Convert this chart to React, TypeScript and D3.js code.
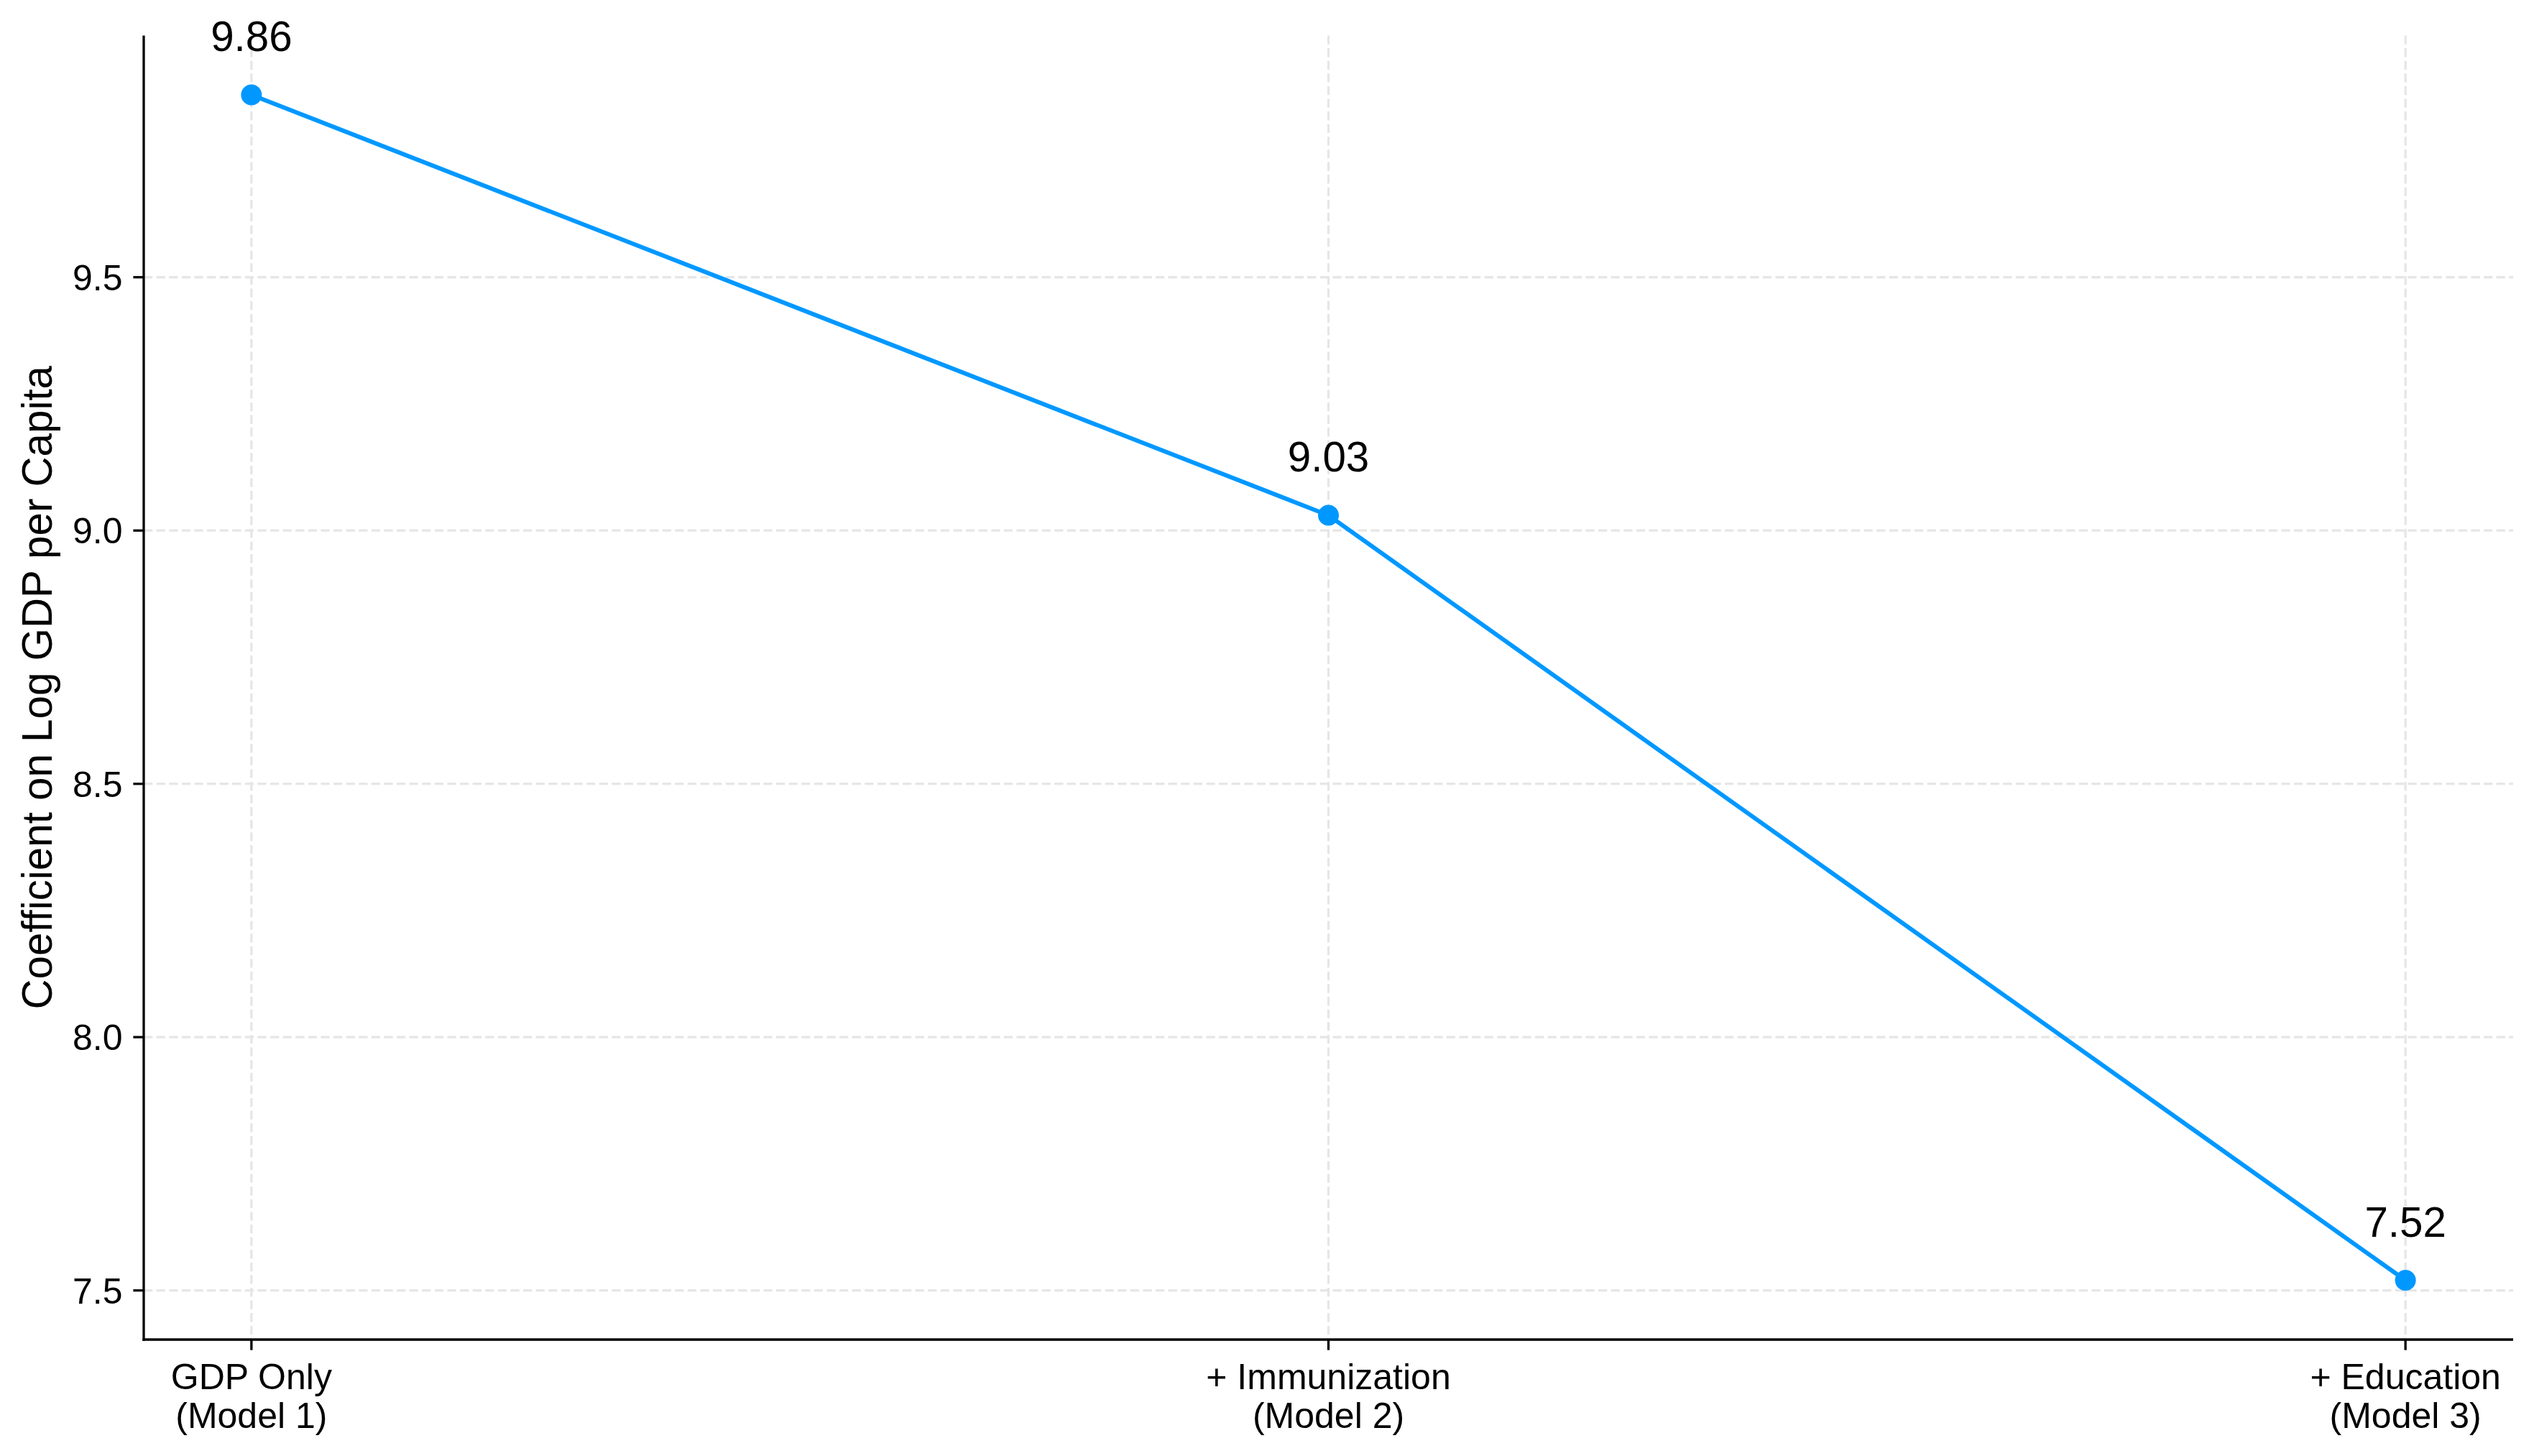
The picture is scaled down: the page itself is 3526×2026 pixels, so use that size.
import React from "react";
import * as d3 from "d3";

const categories: string[][] = [
  ["GDP Only", "(Model 1)"],
  ["+ Immunization", "(Model 2)"],
  ["+ Education", "(Model 3)"],
];
const coefficients: number[] = [9.86, 9.03, 7.52];
const yTicks: number[] = [7.5, 8.0, 8.5, 9.0, 9.5];
const yLabel = "Coefficient on Log GDP per Capita";

const W = 3526;
const H = 2026;
const left = 200;
const right = 3497;
const top = 49.5;
const bottom = 1864;
const FONT = "'Liberation Sans', Arial, Helvetica, sans-serif";
const BLUE = "#0098ff";

export default function App() {
  const yMin = d3.min(coefficients)!;
  const yMax = d3.max(coefficients)!;
  const pad = (yMax - yMin) * 0.05;
  const x = d3.scaleLinear().domain([-0.1, categories.length - 1 + 0.1]).range([left, right]);
  const y = d3.scaleLinear().domain([yMin - pad, yMax + pad]).range([bottom, top]);
  const line = d3
    .line<number>()
    .x((_, i) => x(i))
    .y((d) => y(d));

  return (
    <svg
      width={W}
      height={H}
      style={{ position: "absolute", left: 0, top: 0, background: "#fff" }}
      fontFamily={FONT}
    >
      <rect x={0} y={0} width={W} height={H} fill="#fff" />
      {/* grid */}
      <g stroke="#e6e6e6" strokeWidth={3.3} strokeDasharray="12.3,5.3">
        {yTicks.map((t) => (
          <line key={"gy" + t} x1={left} x2={right} y1={y(t)} y2={y(t)} />
        ))}
        {categories.map((_, i) => (
          <line key={"gx" + i} x1={x(i)} x2={x(i)} y1={top} y2={bottom} />
        ))}
      </g>
      {/* axes */}
      <g stroke="#000" strokeWidth={3.3} fill="none">
        <line x1={left} x2={left} y1={top} y2={bottom + 1.65} />
        <line x1={left - 1.65} x2={right} y1={bottom} y2={bottom} />
        {yTicks.map((t) => (
          <line key={"ty" + t} x1={left - 14.6} x2={left} y1={y(t)} y2={y(t)} />
        ))}
        {categories.map((_, i) => (
          <line key={"tx" + i} x1={x(i)} x2={x(i)} y1={bottom} y2={bottom + 14.6} />
        ))}
      </g>
      {/* y tick labels */}
      <g fontSize={50} fill="#000" textAnchor="end">
        {yTicks.map((t) => (
          <text key={"ly" + t} x={left - 29.5} y={y(t)} dy="0.36em">
            {t.toFixed(1)}
          </text>
        ))}
      </g>
      {/* x tick labels */}
      <g fontSize={50} fill="#000" textAnchor="middle">
        {categories.map((lines, i) => (
          <text key={"lx" + i} x={x(i)} y={1933}>
            {lines.map((s, j) => (
              <tspan key={j} x={x(i)} y={1933 + j * 54}>
                {s}
              </tspan>
            ))}
          </text>
        ))}
      </g>
      {/* y label */}
      <text
        transform={`translate(${72},${(top + bottom) / 2}) rotate(-90)`}
        textAnchor="middle"
        fontSize={58.3}
        fill="#000"
      >
        {yLabel}
      </text>
      {/* series */}
      <path d={line(coefficients) ?? ""} fill="none" stroke={BLUE} strokeWidth={6} />
      {coefficients.map((v, i) => (
        <circle key={"p" + i} cx={x(i)} cy={y(v)} r={14.5} fill={BLUE} />
      ))}
      <g fontSize={58.3} fill="#000" textAnchor="middle">
        {coefficients.map((v, i) => (
          <text key={"v" + i} x={x(i)} y={y(v) - 61}>
            {v.toFixed(2)}
          </text>
        ))}
      </g>
    </svg>
  );
}
